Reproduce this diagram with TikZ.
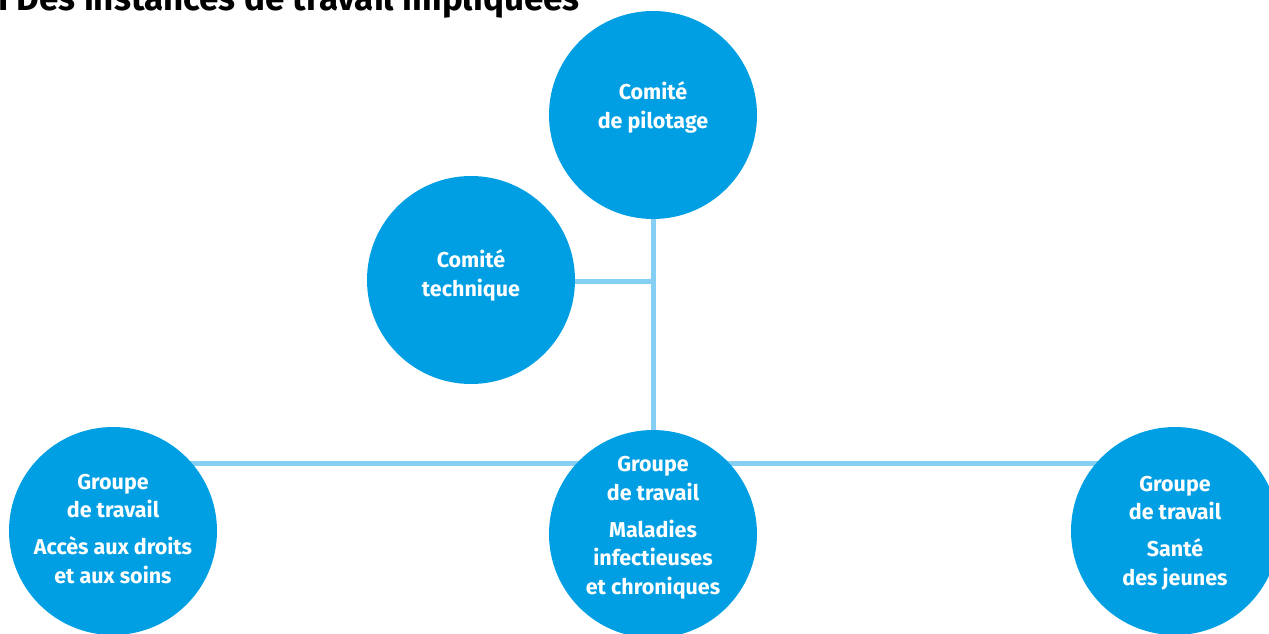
\documentclass[tikz,border=0pt]{standalone}
\usepackage{fontspec}
\setmainfont{Fira Sans}
\usetikzlibrary{backgrounds}
\definecolor{circblue}{HTML}{009FE3}
\definecolor{lineblue}{HTML}{86CFF4}
\begin{document}
\begin{tikzpicture}[x=1pt,y=-1pt,
  bubble/.style={circle,fill=circblue,draw=none,minimum size=208pt,inner sep=0pt},
  btext/.style={text=white,align=center,font=\bfseries\fontsize{21.5}{28.5}\selectfont,inner sep=0pt,anchor=base},
  link/.style={draw=lineblue,line width=5pt}]
\useasboundingbox (0,0) rectangle (1269,633);
\node[anchor=base west,inner sep=0pt,font=\bfseries\fontsize{35}{40}\selectfont] (title) at (-2,10) {I Des instances de travail impliquées};
\node[bubble] (pil) at (653,115) {};
\node[bubble] (tech) at (471,280) {};
\node[bubble] (left) at (113,531) {};
\node[bubble] (cen) at (653,534) {};
\node[bubble] (right) at (1175,531) {};
\node[btext] (tpil) at (653,128) {Comité\\de pilotage};
\node[btext] (ttech) at (471,296) {Comité\\technique};
\node[btext] (tleft) at (113,583) {Groupe\\de travail\\[8.5pt]Accès aux droits\\et aux soins};
\node[btext] (tcen) at (653,594) {Groupe\\de travail\\[8.5pt]Maladies\\infectieuses\\et chroniques};
\node[btext] (tright) at (1175,585) {Groupe\\de travail\\[8.5pt]Santé\\des jeunes};
\begin{scope}[on background layer]
\draw[link] (pil.south) -- (cen.north);
\draw[link] ([yshift=-1pt]tech.east) -- ([yshift=-1pt]tech.east -| pil.south);
\draw[link] ([yshift=68pt]left.center) -- ([yshift=68pt]right.center);
\end{scope}
\end{tikzpicture}
\end{document}
